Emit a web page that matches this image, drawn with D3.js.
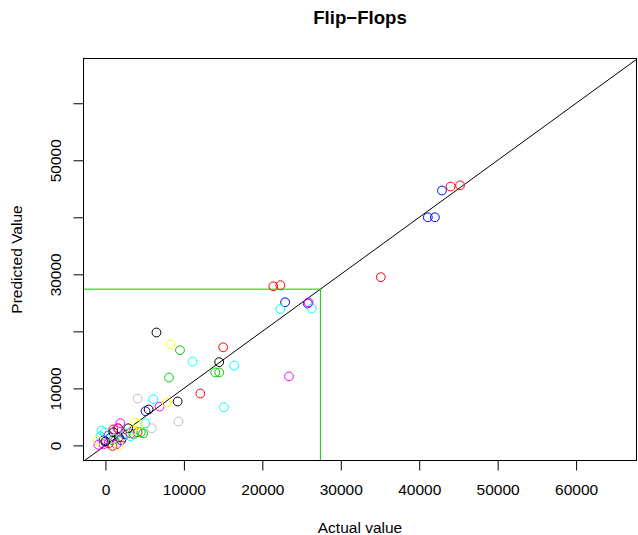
<!DOCTYPE html>
<html>
<head>
<meta charset="utf-8">
<script src="https://cdn.jsdelivr.net/npm/d3@7"></script>
<style>
  html, body { margin: 0; padding: 0; background: #fff; }
  svg { display: block; font-family: "Liberation Sans", Arial, sans-serif; }
</style>
</head>
<body>
<svg id="chart" width="638" height="535"></svg>
<script>
// ---- data ----
const title = "Flip\u2212Flops";
const xLabel = "Actual value";
const yLabel = "Predicted Value";
const xTicks = [0, 10000, 20000, 30000, 40000, 50000, 60000];
const yTicks = [0, 10000, 20000, 30000, 40000, 50000, 60000];
const yTickLabels = ["0", "10000", "", "30000", "", "50000", ""];
const groupColors = ["#000000", "#FF0000", "#00CD00", "#0000FF", "#00FFFF", "#FF00FF", "#FFFF00", "#BEBEBE"];
const cutoff = 27400;

// group index into groupColors
const group = [
  1,1,1,1,1,1,1, 1,1,1,1,1,1,
  3,3,3,3,3,3, 3,3,3,3,
  4,4,4,4,4,4,4, 4,4,4,4,4,4,
  5,5,5,5, 5,5,5,5,5,5,
  2,2,2,2,2,2,2,2,
  6,6,6,6,6,6,6,
  0,0,0,0,0,0,0,0,
  7,7,7,7,7
];
const actual = [
  45200,44000,35100,21400,22300,15000,12100, 1650,1000,400,4100,2200,900,
  42900,41100,42000,22900,25800,5100, -250,640,2550,2000,
  22300,26300,11100,16400,15100,6100,5100, -100,-640,2670,3180,1150,-500,
  25900,23400,6900,1900, -250,1400,380,3180,1530,-900,
  9500,8100,14000,14500,4500,4800,900,3600,
  8300,7800,3800,4200,-1000,1650,3400,
  6500,14500,9200,5500,2900,1000,1700,0,
  4100,9300,5900,1100,2400
];
const predicted = [
  45600,45400,29500,27900,28100,17200,9100, 3000,2800,350,2300,1400,-100,
  44700,40000,40000,25100,24900,6000, 900,1400,1900,900,
  23900,24000,14700,14000,6700,8100,3900, 2300,1600,2100,1600,1200,2600,
  25100,12100,6800,3900, 200,200,1750,2100,3000,100,
  16700,11900,12800,12800,2300,2100,900,2000,
  17700,7500,4000,3700,900,0,2600,
  19800,14600,7700,6300,3000,2300,1400,700,
  8200,4200,3000,1200,1750
];

// ---- layout ----
const svg = d3.select("#chart");
const L = 83.5, R = 636.5, T = 58.5, B = 460.5;
const x = d3.scaleLinear().domain([-2800, 67700]).range([L, R]);
const y = d3.scaleLinear().domain([-2650, 67850]).range([B, T]);
const fs = 15.5;

// clip
svg.append("defs").append("clipPath").attr("id", "clip")
  .append("rect").attr("x", L).attr("y", T).attr("width", R - L).attr("height", B - T);

// title
svg.append("text").attr("x", (L + R) / 2).attr("y", 24).attr("text-anchor", "middle")
  .attr("font-weight", "bold").attr("font-size", 18.6).text(title);

// axes
const xAxis = d3.axisBottom(x).tickValues(xTicks).tickFormat(d3.format("d")).tickSize(10).tickPadding(13);
const gx = svg.append("g").attr("transform", `translate(0,${B})`).call(xAxis);
gx.select(".domain").attr("d", `M${x(xTicks[0])},0H${x(xTicks[xTicks.length - 1])}`);
gx.selectAll("text").attr("font-size", fs).attr("font-family", "Liberation Sans, Arial, sans-serif").attr("fill", "#000");
gx.selectAll("line,path").attr("stroke", "#000");

const yAxis = d3.axisLeft(y).tickValues(yTicks).tickFormat((d, i) => yTickLabels[i]).tickSize(10).tickPadding(8);
const gy = svg.append("g").attr("transform", `translate(${L},0)`).call(yAxis);
gy.select(".domain").attr("d", `M0,${y(yTicks[0])}V${y(yTicks[yTicks.length - 1])}`);
gy.selectAll("line,path").attr("stroke", "#000");
gy.selectAll("text")
  .attr("font-size", fs).attr("font-family", "Liberation Sans, Arial, sans-serif").attr("fill", "#000")
  .attr("text-anchor", "middle").attr("dy", null).attr("x", null)
  .attr("transform", "translate(-23,0) rotate(-90)")
  .attr("y", 0);

// axis labels
svg.append("text").attr("x", (L + R) / 2).attr("y", 533).attr("text-anchor", "middle")
  .attr("font-size", fs).text(xLabel);
svg.append("text").attr("transform", `translate(22,${(T + B) / 2}) rotate(-90)`)
  .attr("text-anchor", "middle").attr("font-size", fs).text(yLabel);

const plot = svg.append("g").attr("clip-path", "url(#clip)");

// identity line
plot.append("line")
  .attr("x1", x(-5000)).attr("y1", y(-5000)).attr("x2", x(80000)).attr("y2", y(80000))
  .attr("stroke", "#000").attr("stroke-width", 1);

// cutoff lines
plot.append("line").attr("x1", x(-5000)).attr("y1", y(cutoff)).attr("x2", x(cutoff)).attr("y2", y(cutoff))
  .attr("stroke", "#00CD00").attr("stroke-width", 1);
plot.append("line").attr("x1", x(cutoff)).attr("y1", y(-5000)).attr("x2", x(cutoff)).attr("y2", y(cutoff))
  .attr("stroke", "#00CD00").attr("stroke-width", 1);

// points
const pts = actual.map((a, i) => ({ a, p: predicted[i], g: group[i] }));
plot.selectAll("circle.pt").data(pts).enter().append("circle")
  .attr("class", "pt")
  .attr("cx", d => x(d.a)).attr("cy", d => y(d.p)).attr("r", 4.4)
  .attr("fill", "none").attr("stroke", d => groupColors[d.g]).attr("stroke-width", 1);

// box
svg.append("rect").attr("x", L).attr("y", T).attr("width", R - L).attr("height", B - T)
  .attr("fill", "none").attr("stroke", "#000").attr("stroke-width", 1);
</script>
</body>
</html>
